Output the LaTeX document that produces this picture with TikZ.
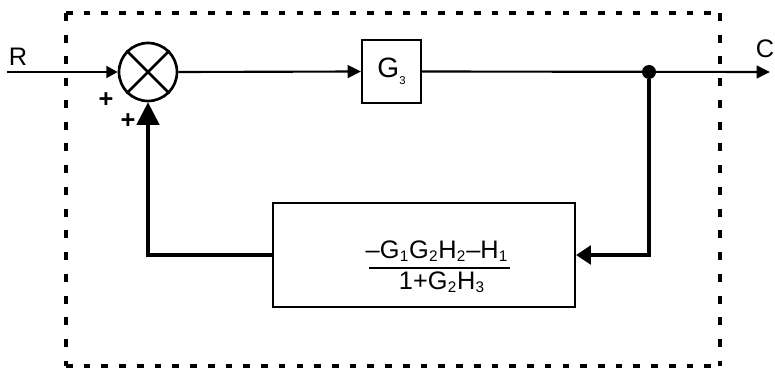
\documentclass[tikz,border=0pt]{standalone}
\usepackage{fontspec}
\setmainfont{Liberation Sans}
\usetikzlibrary{arrows.meta}
% subscripts: small one for the forward block, larger one for the fraction
\newcommand{\gsub}[1]{\kern0.3pt\raisebox{-0.5ex}{\fontsize{8.5}{8.5}\selectfont #1}}
\newcommand{\fsub}[1]{\kern0.2pt\raisebox{-0.2ex}{\fontsize{11.5}{11.5}\selectfont #1}\kern0.6pt}

\begin{document}
\begin{tikzpicture}[
  x=0.75pt, y=-0.75pt,
  >=Triangle,
  sig/.style={line width=1.6pt},
  fb/.style={line width=2.3pt},
  blk/.style={draw,line width=1.7pt,inner sep=0pt},
  sumjn/.style={draw,circle,line width=2pt,minimum size=43.5pt,inner sep=0pt},
  tapdot/.style={circle,fill,minimum size=10.5pt,inner sep=0pt},
  lbl/.style={font=\fontsize{19}{22}\selectfont},
  fracfont/.style={font=\fontsize{19}{22}\selectfont},
  dashh/.style={line width=2.5pt,dash pattern=on 5pt off 8.3pt},
  dashv/.style={line width=2.5pt,dash pattern=on 6pt off 10.3pt},
]
\useasboundingbox (0,0) rectangle (775,370);

% Dashed boundary
\coordinate (bnw) at (66,13);
\coordinate (bne) at (720,13);
\coordinate (bsw) at (66,366);
\coordinate (bse) at (720,366);
\draw[dashh] (bnw) -- (bne);
\draw[dashh] (bsw) -- (bse);
\draw[dashv] (bnw) -- (bsw);
\draw[dashv] (bne) -- (bse);

% Blocks
\node[sumjn] (sum) at (148,72) {};
\draw[line width=2pt] (sum.north west) -- (sum.south east) (sum.north east) -- (sum.south west);
\node[blk,minimum width=44pt,minimum height=47pt,font=\fontsize{21}{24}\selectfont] (g3) at (391.5,71.5) {G\gsub{3}};
\node[blk,minimum width=226.5pt,minimum height=78pt] (hfb) at (424,255) {};
\node[tapdot] (tap) at (649,72) {};
\coordinate (rin) at (7,72);
\coordinate (cout) at (770,72);

% Feedback gain as a fraction
\node[fracfont,anchor=base,inner sep=0pt] (num) at (437,259) {–G\fsub{1}G\fsub{2}H\fsub{2}–H\fsub{1}};
\node[fracfont,anchor=base,inner sep=0pt] (den) at (442,290) {1+G\fsub{2}H\fsub{3}};
\coordinate (barl) at (369,268);
\coordinate (barr) at (510,268);
\draw[line width=2.1pt] (barl) -- (barr);

% Signal lines
\draw[sig,-{Triangle[length=8.5pt,width=9pt]}] (rin) -- (sum.west);
\draw[sig,-{Triangle[length=10pt,width=9.5pt]}] (sum.east) -- (g3.west);
\draw[sig,-{Triangle[length=10pt,width=9.5pt]}] (g3.east) -- (cout);
\draw[fb,-{Triangle[length=11pt,width=14pt]}] (tap) |- (hfb.east);
\draw[fb,-{Triangle[length=17pt,width=17pt]}] (hfb.west) -| (sum.south);

% Labels
\node[lbl] (rlab) at (18,57) {R};
\node[lbl] (clab) at (765,49) {C};
\node[lbl,font=\fontsize{19}{22}\selectfont\bfseries] (p1) at (106,100) {+};
\node[lbl,font=\fontsize{19}{22}\selectfont\bfseries] (p2) at (128,121) {+};

\end{tikzpicture}
\end{document}
